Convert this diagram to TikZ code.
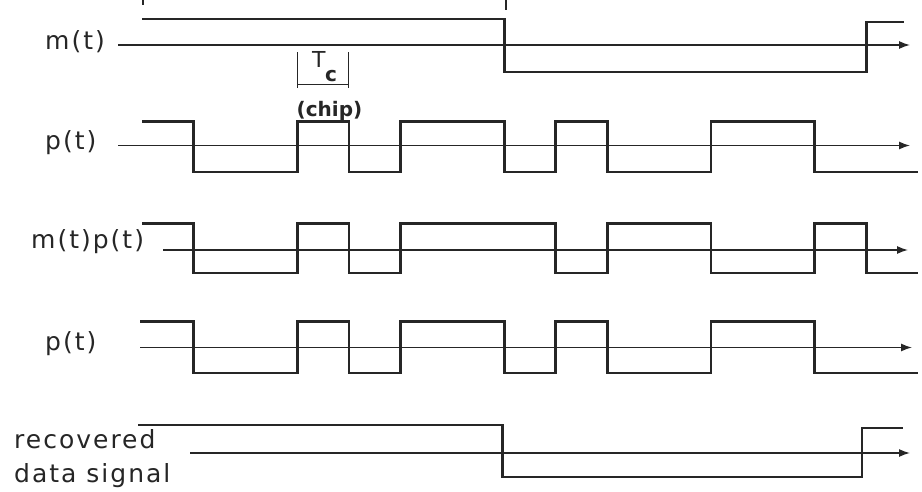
\documentclass[tikz,border=0pt]{standalone}
\usepackage{fontspec}
\setmainfont{DejaVu Sans}
\newfontfamily\lblfont[LetterSpace=8]{DejaVu Sans}
\usetikzlibrary{arrows.meta}
\definecolor{ink}{RGB}{38,38,38}
\begin{document}
\begin{tikzpicture}[x=1pt,y=-1pt,
  wave/.style={draw=ink,line width=2.8pt,line join=miter},
  axisline/.style={draw=ink,line width=1.4pt,-{Latex[length=11pt,width=8pt]}},
  thin/.style={draw=ink,line width=1.3pt},
  lbl/.style={text=ink,inner sep=0pt,anchor=base west,font=\lblfont\fontsize{25}{25}\selectfont}]
\useasboundingbox[fill=white] (0,0) rectangle (922,491);

% remnants at top edge
\draw[thin] (143,0) -- (143,5);
\draw[thin] (506,0) -- (506,10);

% ---------- m(t)
\node[lbl] (lm) at (45,49) {m(t)};
\draw[axisline] (118,45) -- (910,45);
\draw[wave] (142,19) -- (504.1,19) -- (504.1,72) -- (866.2,72) -- (866.2,22) -- (904,22);

% ---------- T_c marker
\draw[thin] (297.5,52) -- (297.5,88);
\draw[thin] (348.5,52) -- (348.5,88);
\draw[thin] (297.5,84.5) -- (348.5,84.5);
\node[text=ink,inner sep=0pt,anchor=base west] (tc) at (312,67)
  {\fontsize{22}{22}\selectfont T\kern-0.5pt\raisebox{-14pt}{\fontsize{20}{20}\selectfont\bfseries c}};
\node[text=ink,inner sep=0pt,anchor=base] (chip) at (329.5,116)
  {\fontsize{20}{20}\selectfont\bfseries (chip)};

% ---------- p(t)
\node[lbl] (lp1) at (45,149) {p(t)};
\draw[axisline] (118,145.5) -- (910,145.5);
\draw[wave] (142,121.5) -- (193.7,121.5) -- (193.7,172) -- (297.2,172) -- (297.2,121.5)
  -- (348.9,121.5) -- (348.9,172) -- (400.7,172) -- (400.7,121.5) -- (504.1,121.5)
  -- (504.1,172) -- (555.8,172) -- (555.8,121.5) -- (607.6,121.5) -- (607.6,172)
  -- (711,172) -- (711,121.5) -- (814.5,121.5) -- (814.5,172) -- (918,172);

% ---------- m(t)p(t)
\node[lbl] (lmp) at (31,248) {m(t)p(t)};
\draw[axisline] (163,250) -- (908,250);
\draw[wave] (142,223.5) -- (193.7,223.5) -- (193.7,273) -- (297.2,273) -- (297.2,223.5)
  -- (348.9,223.5) -- (348.9,273) -- (400.7,273) -- (400.7,223.5) -- (555.8,223.5)
  -- (555.8,273) -- (607.6,273) -- (607.6,223.5) -- (711,223.5) -- (711,273)
  -- (814.5,273) -- (814.5,223.5) -- (866.2,223.5) -- (866.2,273) -- (918,273);

% ---------- p(t) (receiver)
\node[lbl] (lp2) at (45,350) {p(t)};
\draw[axisline] (140,347.5) -- (912,347.5);
\draw[wave] (140,321.5) -- (193.7,321.5) -- (193.7,373) -- (297.2,373) -- (297.2,321.5)
  -- (348.9,321.5) -- (348.9,373) -- (400.7,373) -- (400.7,321.5) -- (504.1,321.5)
  -- (504.1,373) -- (555.8,373) -- (555.8,321.5) -- (607.6,321.5) -- (607.6,373)
  -- (711,373) -- (711,321.5) -- (814.5,321.5) -- (814.5,373) -- (918,373);

% ---------- recovered data signal
\node[lbl] (lr1) at (14,448) {recovered};
\node[lbl] (lr2) at (14,482) {data signal};
\draw[axisline] (190,453) -- (910,453);
\draw[wave] (138,425) -- (502.5,425) -- (502.5,477) -- (862,477) -- (862,428) -- (903,428);
\end{tikzpicture}
\end{document}
